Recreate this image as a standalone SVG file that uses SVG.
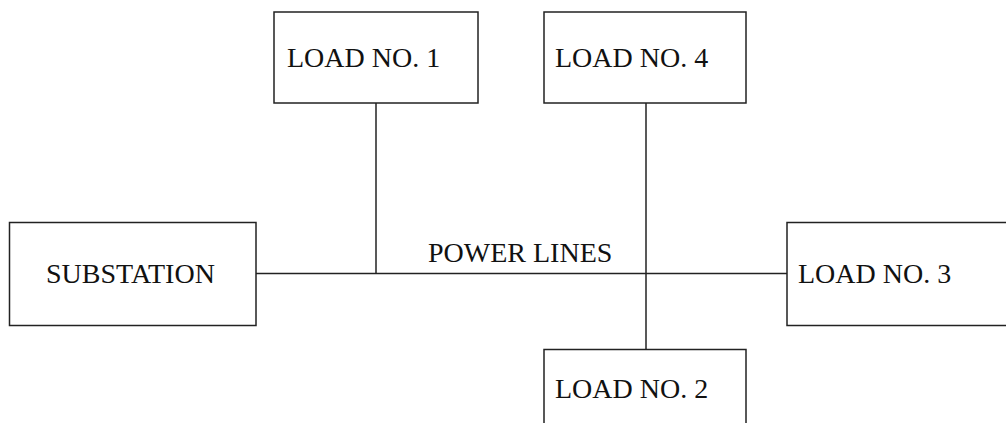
<svg xmlns="http://www.w3.org/2000/svg" width="1006" height="423" viewBox="0 0 1006 423">
<style>
.box{fill:#fff;stroke:#222;stroke-width:1.5}
.wire{stroke:#222;stroke-width:1.5;fill:none}
text{font-family:"Liberation Serif","Times New Roman",serif;font-size:28px;fill:#111}
</style>
<rect width="1006" height="423" fill="#fff"/>
<g id="connectors">
<line class="wire" x1="256" y1="273.5" x2="787" y2="273.5"/>
<line class="wire" x1="376" y1="103" x2="376" y2="273.5"/>
<line class="wire" x1="646" y1="103" x2="646" y2="349"/>
<text x="428" y="262">POWER LINES</text>
</g>
<g id="load1"><rect class="box" x="274" y="12" width="204" height="91"/><text x="287" y="67">LOAD NO. 1</text></g>
<g id="load4"><rect class="box" x="544" y="12" width="202" height="91"/><text x="555" y="67">LOAD NO. 4</text></g>
<g id="substation"><rect class="box" x="9.5" y="222.5" width="246.5" height="103"/><text x="46" y="283">SUBSTATION</text></g>
<g id="load3"><rect class="box" x="787" y="222.5" width="230" height="103"/><text x="798" y="283">LOAD NO. 3</text></g>
<g id="load2"><rect class="box" x="544" y="349.5" width="202" height="90"/><text x="555" y="398">LOAD NO. 2</text></g>
</svg>
